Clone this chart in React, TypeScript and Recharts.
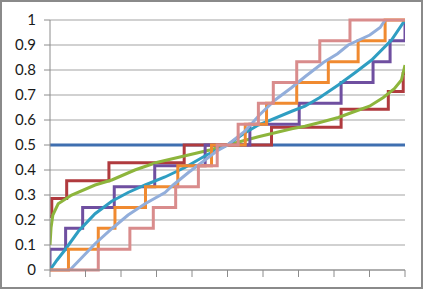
import { LineChart, Line, XAxis, YAxis, CartesianGrid } from "recharts"

// axis ticks
const xTicks = [0, 1, 2, 3, 4, 5, 6, 7, 8, 9, 10]
const yTicks = [0, 0.1, 0.2, 0.3, 0.4, 0.5, 0.6, 0.7, 0.8, 0.9, 1]

// flat reference line
const flatX = [0, 10]
const flatY = [0.5, 0.5]

// step series: x where each level starts, and the level
const redX = [0, 0.05, 0.47, 1.66, 3.78, 6.24, 8.2, 9.53, 9.95, 10]
const redY = [0.214, 0.286, 0.357, 0.429, 0.5, 0.571, 0.643, 0.714, 0.786, 0.786]

const purpleX = [0, 0, 0.44, 0.92, 1.81, 2.95, 4.37, 5.63, 7.02, 8.2, 9.1, 9.58, 10]
const purpleY = [0, 0.083, 0.167, 0.25, 0.333, 0.417, 0.5, 0.583, 0.667, 0.75, 0.833, 0.917, 1]

const orangeX = [0, 0.52, 1.36, 1.83, 2.69, 3.6, 4.55, 5.5, 6.1, 6.95, 7.84, 8.68, 9.44, 10]
const orangeY = [0, 0.083, 0.167, 0.25, 0.333, 0.417, 0.5, 0.583, 0.667, 0.75, 0.833, 0.917, 1, 1]

const pinkX = [0, 1.36, 2.25, 2.91, 3.54, 4.18, 4.71, 5.3, 5.87, 6.29, 6.95, 7.6, 8.45, 10]
const pinkY = [0, 0.083, 0.167, 0.25, 0.333, 0.417, 0.5, 0.583, 0.667, 0.75, 0.833, 0.917, 1, 1]

// empirical curves
const greenX = [0, 0.03, 0.08, 0.23, 0.61, 1.27, 1.74, 2.39, 3.0, 3.6, 4.5, 5, 5.87, 6.81, 7.18, 7.6, 8.12, 8.6, 9.0, 9.39, 9.7, 9.9, 10]
const greenY = [0.1, 0.17, 0.22, 0.265, 0.3, 0.34, 0.36, 0.4, 0.43, 0.45, 0.48, 0.5, 0.533, 0.565, 0.575, 0.59, 0.61, 0.635, 0.655, 0.69, 0.725, 0.76, 0.82]

const tealX = [0, 0.2, 0.42, 0.8, 1.27, 1.74, 2.2, 2.68, 3.24, 3.8, 4.41, 5, 5.45, 5.87, 6.81, 7.18, 7.6, 8.12, 8.6, 9.06, 9.62, 10]
const tealY = [0, 0.04, 0.08, 0.155, 0.225, 0.275, 0.31, 0.34, 0.372, 0.41, 0.46, 0.5, 0.545, 0.58, 0.635, 0.655, 0.69, 0.74, 0.79, 0.84, 0.92, 1]

const lightX = [0.56, 0.9, 1.27, 1.74, 2.2, 2.68, 3.24, 3.47, 3.9, 4.32, 4.69, 5, 5.49, 5.9, 6.34, 6.81, 7.2, 7.7, 8.1, 8.4, 9.01, 9.3, 9.44]
const lightY = [0, 0.05, 0.105, 0.165, 0.22, 0.265, 0.31, 0.34, 0.39, 0.435, 0.475, 0.5, 0.555, 0.62, 0.68, 0.73, 0.775, 0.83, 0.865, 0.9, 0.94, 0.97, 1]

const zip = (xs: number[], ys: number[]) => xs.map((x, i) => ({ x, y: ys[i] }))

const series = [
  { name: "flat", data: zip(flatX, flatY), color: "#3F6FB0", step: false },
  { name: "red", data: zip(redX, redY), color: "#B03A3E", step: true },
  { name: "green", data: zip(greenX, greenY), color: "#8DB53C", step: false },
  { name: "purple", data: zip(purpleX, purpleY), color: "#6F4FA0", step: true },
  { name: "teal", data: zip(tealX, tealY), color: "#2F9EC2", step: false },
  { name: "orange", data: zip(orangeX, orangeY), color: "#F08A30", step: true },
  { name: "light", data: zip(lightX, lightY), color: "#92AEDB", step: false },
  { name: "pink", data: zip(pinkX, pinkY), color: "#D98C8C", step: true },
]

export default function App() {
  return (
    <div style={{ position: "absolute", left: 0, top: 0, width: 425, height: 290, background: "#fff" }}>
      <LineChart width={425} height={290} margin={{ top: 20, right: 20, bottom: 0, left: 0 }}>
        <CartesianGrid vertical={false} stroke="#a3a3a3" />
        <XAxis
          type="number"
          dataKey="x"
          domain={[0, 10]}
          ticks={xTicks}
          tickFormatter={() => ""}
          tickSize={7}
          height={20}
          stroke="#8c8c8c"
          allowDataOverflow
        />
        <YAxis
          type="number"
          domain={[0, 1]}
          ticks={yTicks}
          interval={0}
          width={50}
          tickSize={6}
          tickMargin={8}
          stroke="#8c8c8c"
          tick={{ fill: "#1a1a1a", fontSize: 15, fontFamily: "Lato" }}
        />
        {series.map((s) => (
          <Line
            key={s.name}
            data={s.data}
            dataKey="y"
            type={s.step ? "stepAfter" : "linear"}
            stroke={s.color}
            strokeWidth={3}
            dot={false}
            activeDot={false}
            isAnimationActive={false}
          />
        ))}
      </LineChart>
      <div
        style={{
          position: "absolute",
          left: 0,
          top: 0,
          width: 423,
          height: 289,
          boxSizing: "border-box",
          border: "2px solid #8a8a8a",
          pointerEvents: "none",
        }}
      />
    </div>
  )
}
